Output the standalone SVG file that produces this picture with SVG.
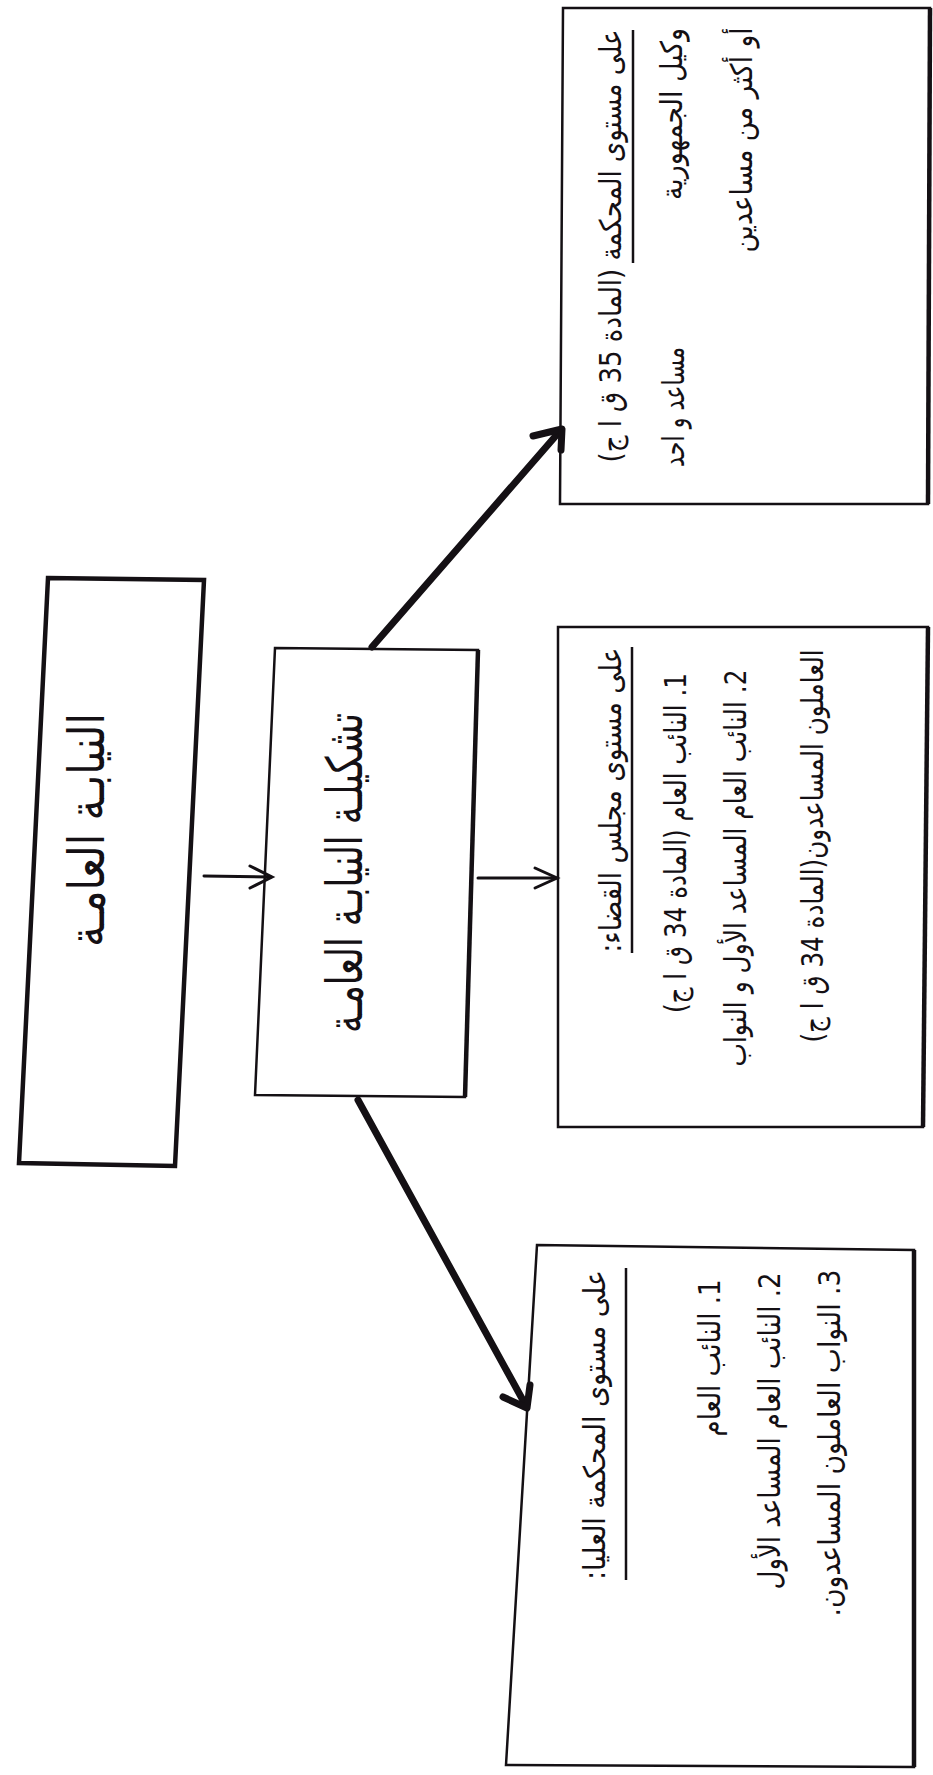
<svg xmlns="http://www.w3.org/2000/svg" width="933" height="1775" viewBox="0 0 933 1775">
<style>
.bg{fill:#ffffff}
.box{fill:#ffffff;stroke:#141014;stroke-width:2.5;stroke-linejoin:miter}
.edge{stroke:#141014;stroke-width:4.5;fill:none}
.t{font-family:"DejaVu Sans",sans-serif;fill:#141014;direction:rtl;text-anchor:middle}
.big{font-size:50px}
.mid{font-size:30px}
.ul{stroke:#141014;stroke-width:2.5}
.thin{stroke:#141014;stroke-width:3;fill:none;stroke-linecap:round}
.thick{stroke:#141014;stroke-width:7;fill:none;stroke-linecap:round;stroke-linejoin:round}
</style>
<rect class="bg" x="0" y="0" width="933" height="1775"/>

<g id="node-niyaba">
  <polygon class="box" style="stroke-width:4.5" points="48,578 204,580 175,1166 19,1163"/>
  <text class="t big" transform="translate(104,830) rotate(-90)" textLength="234" lengthAdjust="spacingAndGlyphs">النيابـة العامـة</text>
</g>

<g id="node-tashkila">
  <polygon class="box" points="275,648 478,650 465,1097 255,1095"/>
  <line class="edge" x1="478" y1="650" x2="465" y2="1097"/>
  <text class="t big" transform="translate(362,873) rotate(-90)" textLength="320" lengthAdjust="spacingAndGlyphs">تشكيلـة النيابـة العامـة</text>
</g>

<g id="node-majlis">
  <polygon class="box" points="558,627 928,627 923,1127 558,1127"/>
  <line class="edge" x1="928" y1="627" x2="923" y2="1127"/>
  <text class="t mid" transform="translate(621,800) rotate(-90)" textLength="305" lengthAdjust="spacingAndGlyphs">على مستوى مجلس القضاء:</text>
  <line class="ul" x1="632" y1="647" x2="632" y2="953"/>
  <text class="t mid" transform="translate(686,843) rotate(-90)" textLength="340" lengthAdjust="spacingAndGlyphs">1. النائب العام (المادة 34 ق ا ج)</text>
  <text class="t mid" transform="translate(746,868) rotate(-90)" textLength="397" lengthAdjust="spacingAndGlyphs">2. النائب العام المساعد الأول و النواب</text>
  <text class="t mid" transform="translate(823,846) rotate(-90)" textLength="393" lengthAdjust="spacingAndGlyphs">العاملون المساعدون(المادة 34 ق ا ج)</text>
</g>

<g id="node-mahkama">
  <polygon class="box" points="563,8 930,8 928,504 560,504"/>
  <line class="edge" x1="930" y1="8" x2="928" y2="504"/>
  <text class="t mid" transform="translate(621,246) rotate(-90)" textLength="433" lengthAdjust="spacingAndGlyphs">على مستوى المحكمة (المادة 35 ق ا ج)</text>
  <line class="ul" x1="633" y1="30" x2="633" y2="263"/>
  <text class="t mid" transform="translate(682,114) rotate(-90)" textLength="172" lengthAdjust="spacingAndGlyphs">وكيل الجمهورية</text>
  <text class="t mid" transform="translate(684,407) rotate(-90)" textLength="120" lengthAdjust="spacingAndGlyphs">مساعد و احد</text>
  <text class="t mid" transform="translate(752,140) rotate(-90)" textLength="225" lengthAdjust="spacingAndGlyphs">أو أكثر من مساعدين</text>
</g>

<g id="node-olya">
  <polygon class="box" points="537,1245 914,1250 914,1767 506,1765"/>
  <line class="edge" x1="914" y1="1250" x2="914" y2="1767"/>
  <text class="t mid" transform="translate(605,1425) rotate(-90)" textLength="310" lengthAdjust="spacingAndGlyphs">على مستوى المحكمة العليا:</text>
  <line class="ul" x1="626" y1="1268" x2="626" y2="1580"/>
  <text class="t mid" transform="translate(720,1358) rotate(-90)" textLength="157" lengthAdjust="spacingAndGlyphs">1. النائب العام</text>
  <text class="t mid" transform="translate(780,1431) rotate(-90)" textLength="317" lengthAdjust="spacingAndGlyphs">2. النائب العام المساعد الأول</text>
  <text class="t mid" transform="translate(840,1443) rotate(-90)" textLength="347" lengthAdjust="spacingAndGlyphs">3. النواب العاملون المساعدون.</text>
</g>

<g id="connectors">
  <line class="thin" x1="204" y1="876" x2="271" y2="877"/>
  <polyline class="thin" points="250,866 272,877 250,888"/>
  <line class="thin" x1="478" y1="878" x2="556" y2="878"/>
  <polyline class="thin" points="535,868 557,878 535,888"/>
  <line class="thick" x1="372" y1="647" x2="560" y2="431"/>
  <polyline class="thick" points="533,436 562,429 561,450"/>
  <line class="thick" x1="358" y1="1100" x2="525" y2="1404"/>
  <polyline class="thick" points="503,1397 527,1408 530,1385"/>
</g>
</svg>
